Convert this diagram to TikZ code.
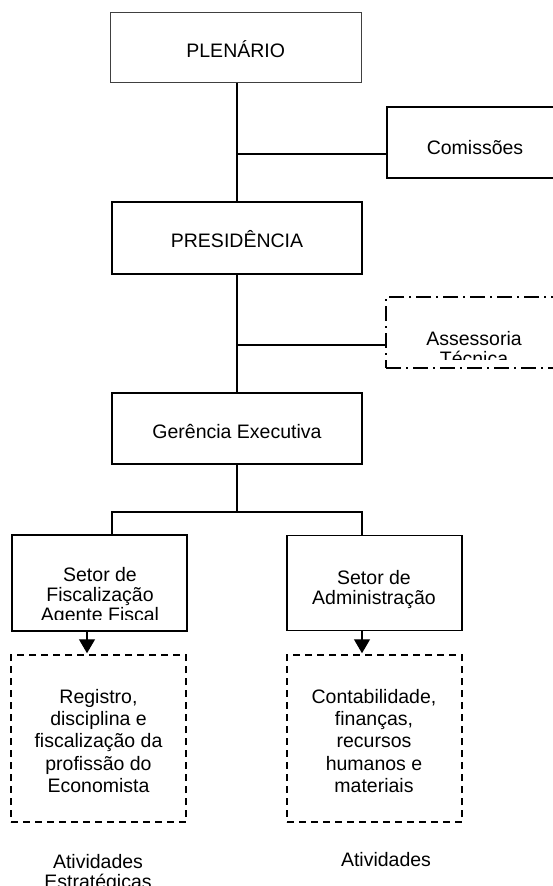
\documentclass[tikz,border=0pt]{standalone}
\usepackage{fontspec}
\setmainfont{Liberation Sans}
\usetikzlibrary{arrows.meta}
\begin{document}
\begin{tikzpicture}[x=1pt,y=-1pt,
  orgbox/.style={draw=black, line width=1.5pt, inner sep=0pt, fill=white},
  thinbox/.style={draw=black!75, line width=1pt, inner sep=0pt},
  dashbox/.style={draw=black, line width=1.5pt, inner sep=0pt, dash pattern=on 7pt off 5pt},
  dashdotbox/.style={draw=black, line width=1.5pt, inner sep=0pt, dash pattern=on 15pt off 5pt on 2pt off 5pt},
  lbl/.style={inner sep=0pt, font=\fontsize{19.5}{20}\selectfont},
  mlbl/.style={inner sep=0pt, align=center, font=\fontsize{19.5}{20}\selectfont},
  dlbl/.style={inner sep=0pt, align=center, font=\fontsize{19.5}{22.2}\selectfont},
  link/.style={line width=1.3pt},
  arr/.style={line width=1.3pt, -{Triangle[length=14pt,width=16pt]}, shorten >=1pt}
]
\useasboundingbox (0,0) rectangle (553,886);
\clip (0,0) rectangle (553,886);

% boxes
\node[thinbox, minimum width=251pt, minimum height=70pt] (plen) at (235.5,47) {};
\node[orgbox, minimum width=176pt, minimum height=71pt] (com) at (475,142.5) {};
\node[orgbox, minimum width=250pt, minimum height=72pt] (pres) at (237,238) {};
\node[dashdotbox, minimum width=176pt, minimum height=71pt] (ass) at (474,332.5) {};
\node[orgbox, minimum width=250pt, minimum height=71pt] (ger) at (237,428.5) {};
\node[orgbox, minimum width=175pt, minimum height=96pt] (fis) at (99.5,583) {};
\node[orgbox, minimum width=175pt, minimum height=95pt] (adm) at (374.5,583) {};
\node[dashbox, minimum width=175pt, minimum height=167pt] (dl) at (98.5,738.5) {};
\node[dashbox, minimum width=175pt, minimum height=167pt] (dr) at (374.5,738.5) {};

% texts
\node[lbl, anchor=base] (tplen) at (235.7,57) {PLENÁRIO};
\node[lbl, anchor=base] (tcom) at (475,154) {Comissões};
\node[lbl, anchor=base] (tpres) at (237,247) {PRESIDÊNCIA};
\begin{scope}
  \clip (387,298) rectangle (553,359);
  \node[mlbl] (tass) at (474,349) {Assessoria\\Técnica};
\end{scope}
\node[lbl, anchor=base] (tger) at (237,438) {Gerência Executiva};
\begin{scope}
  \clip (13,536) rectangle (186,619.5);
  \node[mlbl] (tfis) at (100,596) {Setor de\\Fiscalização\\Agente Fiscal};
\end{scope}
\node[mlbl] (tadm) at (374,589) {Setor de\\Administração};
\node[dlbl] (tdl) at (98.5,741) {Registro,\\disciplina e\\fiscalização da\\profissão do\\Economista};
\node[dlbl] (tdr) at (374,741) {Contabilidade,\\finanças,\\recursos\\humanos e\\materiais};
\node[mlbl] (tatl) at (98,873) {Atividades\\Estratégicas};
\node[lbl, anchor=base] (tatr) at (386,866) {Atividades};

% connectors
\coordinate (j1) at (237,154);
\coordinate (j2) at (237,345);
\coordinate (bus) at (237,512);
\draw[link] (plen.south -| j1) -- (pres.north -| j1);
\draw[link] (j1) -- (j1 -| com.west);
\draw[link] (pres.south -| j2) -- (ger.north -| j2);
\draw[link] (j2) -- (j2 -| ass.west);
\draw[link] (ger.south) -- (bus);
\draw[link] (fis.north -| 112,0) -- (112,512) -- (362,512) -- (adm.north -| 362,0);
\draw[arr] (fis.south -| 87,0) -- (dl.north -| 87,0);
\draw[arr] (adm.south -| 362,0) -- (dr.north -| 362,0);
\end{tikzpicture}
\end{document}
